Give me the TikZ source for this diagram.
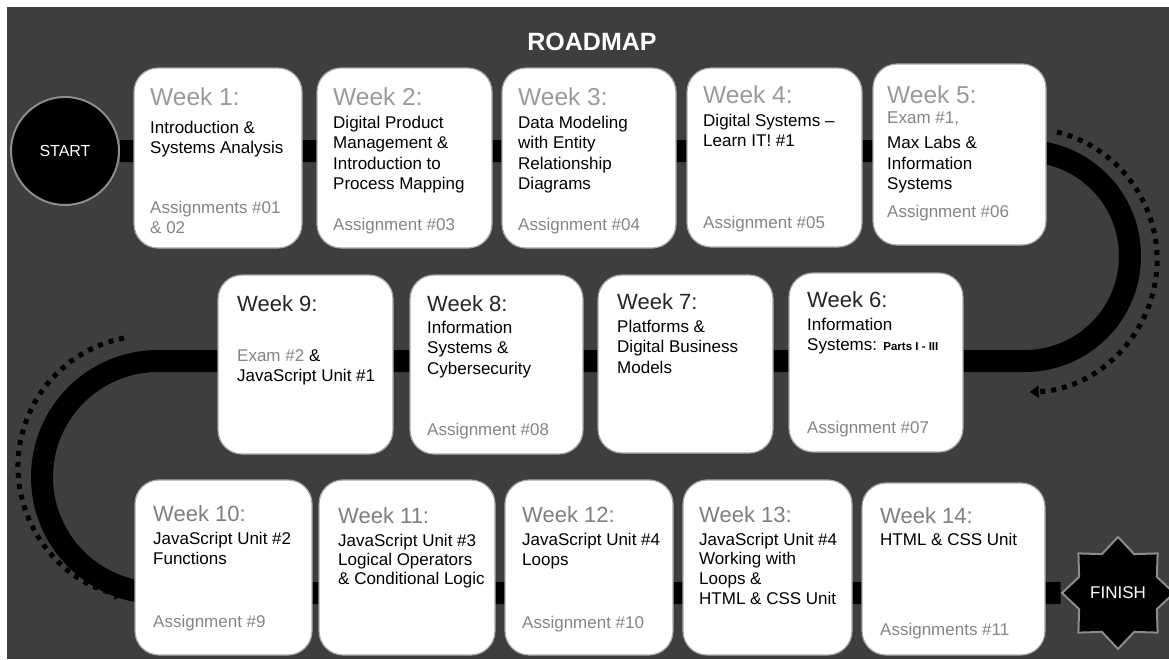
\documentclass[tikz,border=0pt]{standalone}
\usepackage{fontspec}
\setmainfont{Liberation Sans}
\usetikzlibrary{arrows.meta,shapes.geometric,backgrounds}

\definecolor{fundo}{HTML}{3E3E3E}
\definecolor{borda}{HTML}{A6A6A6}
\definecolor{anel}{HTML}{8C8C8C}
\definecolor{semclara}{HTML}{9A9A9A}
\definecolor{semescura}{HTML}{262626}
\definecolor{semcinza}{HTML}{7F7F7F}
\definecolor{tarefacor}{HTML}{858585}

% linhas alinhadas pela primeira linha
\newcommand{\linhas}[1]{\begin{tabular}[t]{@{}l@{}}#1\end{tabular}}

\begin{document}
\begin{tikzpicture}[x=1pt,y=-1pt,
    card/.style={draw=borda, line width=1.2pt, fill=white, rounded corners=24pt, inner sep=0pt},
    semtop/.style={anchor=base west, inner sep=0pt, text=semclara, font=\fontsize{24.5}{24.5}\selectfont},
    semmid/.style={anchor=base west, inner sep=0pt, text=semescura, font=\fontsize{22}{22}\selectfont},
    sembot/.style={anchor=base west, inner sep=0pt, text=semcinza, font=\fontsize{22}{22}\selectfont},
    texto/.style={anchor=base west, inner sep=0pt, text=black, font=\fontsize{17}{20.5}\selectfont},
    tarefa/.style={anchor=base west, inner sep=0pt, text=tarefacor, font=\fontsize{17}{20}\selectfont},
    road/.style={line width=22pt, black},
    dots/.style={line width=5pt, black, dash pattern=on 5pt off 6pt, -{Triangle[length=9pt,width=12pt]}}]
\useasboundingbox (0,0) rectangle (1169,659);

    %Titulo
\node[text=white, anchor=base, inner sep=0pt, font=\bfseries\fontsize{25}{25}\selectfont] (titulo) at (592,50) {ROADMAP};

    %Inicio e fim
\node[circle, fill=black, draw=anel, line width=2pt, minimum size=108pt, inner sep=0pt, text=white, font=\fontsize{16}{16}\selectfont] (start) at (65,151) {START};
\node[star, star points=8, star point ratio=1.33, fill=black, draw=anel, line width=2pt, minimum size=112pt, inner sep=0pt, text=white, font=\fontsize{17}{17}\selectfont] (finish) at (1118,593) {FINISH};

    %Linha 1 (semanas 1-5)
\node[card, minimum width=168pt, minimum height=180pt] (w1) at (218,158) {};
\node[semtop] (s1) at (150,105) {Week 1:};
\node[texto] (t1) at (150,133) {\linhas{Introduction \&\\Systems Analysis}};
\node[tarefa] (a1) at (150,213) {\linhas{Assignments \#01\\\& 02}};

\node[card, minimum width=175pt, minimum height=180pt] (w2) at (404.5,158) {};
\node[semtop] (s2) at (333,105) {Week 2:};
\node[texto] (t2) at (333,128) {\linhas{Digital Product\\Management \&\\Introduction to\\Process Mapping}};
\node[tarefa] (a2) at (333,230) {Assignment \#03};

\node[card, minimum width=174pt, minimum height=180pt] (w3) at (589,158) {};
\node[semtop] (s3) at (518,105) {Week 3:};
\node[texto] (t3) at (518,128) {\linhas{Data Modeling\\with Entity\\Relationship\\Diagrams}};
\node[tarefa] (a3) at (518,230) {Assignment \#04};

\node[card, minimum width=175pt, minimum height=179pt] (w4) at (774.5,157.5) {};
\node[semtop] (s4) at (703,103) {Week 4:};
\node[texto] (t4) at (703,126) {\linhas{Digital Systems \textendash\\Learn IT! \#1}};
\node[tarefa] (a4) at (703,228) {Assignment \#05};

\node[card, minimum width=173pt, minimum height=181pt] (w5) at (959.5,154.5) {};
\node[semtop] (s5) at (887,103) {Week 5:};
\node[texto] (t5) at (887,123) {\linhas{{\color{tarefacor}Exam \#1,}\\[5pt]Max Labs \&\\Information\\Systems}};
\node[tarefa] (a5) at (887,217) {Assignment \#06};

    %Linha 2 (semanas 9-6)
\node[card, minimum width=175pt, minimum height=179pt] (w9) at (305.5,364.5) {};
\node[semmid] (s9) at (237,311) {Week 9:};
\node[texto] (t9) at (237,361) {\linhas{{\color{tarefacor}Exam \#2} \&\\JavaScript Unit \#1}};

\node[card, minimum width=173pt, minimum height=179pt] (w8) at (496.5,364.5) {};
\node[semmid] (s8) at (427,311) {Week 8:};
\node[texto] (t8) at (427,333) {\linhas{Information\\Systems \&\\Cybersecurity}};
\node[tarefa] (a8) at (427,435) {Assignment \#08};

\node[card, minimum width=175pt, minimum height=178pt] (w7) at (685.5,364) {};
\node[semmid] (s7) at (617,309) {Week 7:};
\node[texto] (t7) at (617,332) {\linhas{Platforms \&\\Digital Business\\Models}};

\node[card, minimum width=174pt, minimum height=179pt] (w6) at (876,362.5) {};
\node[semmid] (s6) at (807,307) {Week 6:};
\node[texto] (t6) at (807,330) {\linhas{Information\\Systems: {\bfseries\fontsize{11.5}{12}\selectfont Parts I - III}}};
\node[tarefa] (a6) at (807,433) {Assignment \#07};

    %Linha 3 (semanas 10-14)
\node[card, minimum width=177pt, minimum height=175pt] (w10) at (223.5,567.5) {};
\node[sembot] (s10) at (153,521) {Week 10:};
\node[texto] (t10) at (153,544) {\linhas{JavaScript Unit \#2\\Functions}};
\node[tarefa] (a10) at (153,627) {Assignment \#9};

\node[card, minimum width=176pt, minimum height=175pt] (w11) at (407,567.5) {};
\node[sembot] (s11) at (338,523) {Week 11:};
\node[texto, font=\fontsize{17}{19}\selectfont] (t11) at (338,546) {\linhas{JavaScript Unit \#3\\Logical Operators\\\& Conditional Logic}};

\node[card, minimum width=168pt, minimum height=175pt] (w12) at (589,567.5) {};
\node[sembot] (s12) at (522,522) {Week 12:};
\node[texto] (t12) at (522,545) {\linhas{JavaScript Unit \#4\\Loops}};
\node[tarefa] (a12) at (522,628) {Assignment \#10};

\node[card, minimum width=169pt, minimum height=175pt] (w13) at (767.5,567.5) {};
\node[sembot] (s13) at (699,522) {Week 13:};
\node[texto, font=\fontsize{17}{19.7}\selectfont] (t13) at (699,545) {\linhas{JavaScript Unit \#4\\Working with\\Loops \&\\HTML \& CSS Unit}};

\node[card, minimum width=183pt, minimum height=172pt] (w14) at (953.5,569) {};
\node[sembot] (s14) at (880,523) {Week 14:};
\node[texto] (t14) at (880,545) {HTML \& CSS Unit};
\node[tarefa] (a14) at (880,635) {Assignments \#11};

    %Fundo, estrada e setas
\begin{scope}[on background layer]
  \fill[white] (0,0) rectangle (1169,659);
  \fill[fundo] (7,7) rectangle (1169,659);
  \coordinate (curvaD) at (1025,151);
  \coordinate (curvaE) at (158,361);
  \draw[road] (start) -- (curvaD) arc[start angle=-90, end angle=90, radius=105]
      -- (curvaE) arc[start angle=-90, end angle=-270, radius=116] -- (finish);
  \draw[dots] (1057,132) arc[start angle=-76, end angle=88, radius=132]; %seta direita
  \draw[dots] (124,338) arc[start angle=-101, end angle=-259, radius=131]; %seta esquerda
\end{scope}
\end{tikzpicture}
\end{document}
